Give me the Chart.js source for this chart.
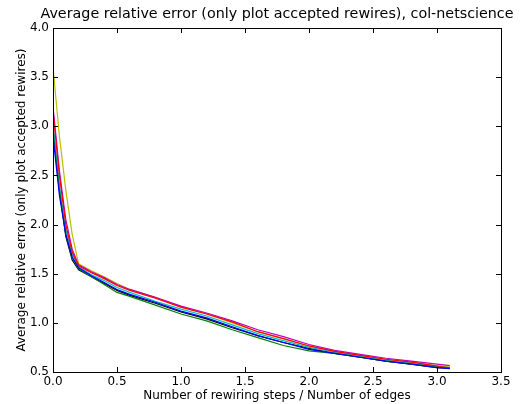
<!DOCTYPE html>
<html>
<head>
<meta charset="utf-8">
<script src="https://cdn.jsdelivr.net/npm/chart.js@4.4.1/dist/chart.umd.min.js"></script>
<style>
  html, body { margin: 0; padding: 0; background: #fff; }
  #wrap { width: 526px; height: 404px; }
</style>
</head>
<body>
<div id="wrap"><canvas id="errChart"></canvas></div>
<script>
// rewiring steps / edges, sampled denser near the start where the error drops fast
const steps = [0, 0.05, 0.1, 0.15, 0.2, 0.3, 0.4, 0.5, 0.6, 0.8, 1.0, 1.2, 1.4, 1.6, 1.8, 2.0, 2.2, 2.4, 2.6, 2.8, 3.0, 3.1];

const runBlue    = [2.90, 2.30, 1.90, 1.67, 1.56, 1.48, 1.41, 1.34, 1.29, 1.21, 1.12, 1.05, 0.96, 0.87, 0.80, 0.73, 0.69, 0.65, 0.61, 0.58, 0.545, 0.535];
const runGreen   = [2.95, 2.35, 1.90, 1.66, 1.55, 1.47, 1.39, 1.31, 1.27, 1.18, 1.09, 1.02, 0.93, 0.85, 0.77, 0.715, 0.69, 0.65, 0.61, 0.58, 0.55, 0.545];
const runRed     = [3.15, 2.50, 2.00, 1.72, 1.58, 1.51, 1.45, 1.38, 1.33, 1.25, 1.16, 1.09, 1.01, 0.91, 0.84, 0.765, 0.71, 0.67, 0.63, 0.60, 0.56, 0.54];
const runCyan    = [3.00, 2.40, 1.95, 1.70, 1.57, 1.49, 1.43, 1.36, 1.31, 1.22, 1.14, 1.07, 0.98, 0.89, 0.82, 0.75, 0.70, 0.66, 0.62, 0.59, 0.555, 0.54];
const runMagenta = [3.20, 2.55, 2.05, 1.75, 1.59, 1.52, 1.46, 1.39, 1.34, 1.26, 1.17, 1.10, 1.02, 0.93, 0.86, 0.78, 0.72, 0.68, 0.64, 0.61, 0.58, 0.565];
const runYellow  = [3.60, 2.90, 2.35, 1.90, 1.60, 1.53, 1.47, 1.40, 1.34, 1.26, 1.16, 1.09, 1.00, 0.91, 0.84, 0.765, 0.71, 0.67, 0.63, 0.60, 0.565, 0.55];
const runBlack   = [3.00, 2.35, 1.88, 1.64, 1.54, 1.47, 1.40, 1.33, 1.28, 1.20, 1.11, 1.04, 0.95, 0.87, 0.80, 0.74, 0.69, 0.65, 0.61, 0.58, 0.545, 0.54];

const xTicks = [0, 0.5, 1.0, 1.5, 2.0, 2.5, 3.0, 3.5];
const yTicks = [0.5, 1.0, 1.5, 2.0, 2.5, 3.0, 3.5, 4.0];

const TITLE = 'Average relative error (only plot accepted rewires), col-netscience';
const FONT = 'DejaVu Sans, sans-serif';

function series(ys, color) {
  return {
    data: steps.map((x, i) => ({ x, y: ys[i] })),
    borderColor: color,
    borderWidth: 1.2,
    pointRadius: 0,
    fill: false,
    tension: 0,
  };
}

// matplotlib-like frame with inward ticks on every side, title centred over the axes
const frameTicks = {
  id: 'frameTicks',
  afterDatasetsDraw(chart) {
    const { ctx, chartArea: a, scales } = chart;
    ctx.save();
    ctx.strokeStyle = '#000';
    ctx.lineWidth = 1;
    const len = 5;
    ctx.beginPath();
    xTicks.forEach(v => {
      const px = Math.round(scales.x.getPixelForValue(v)) + 0.5;
      ctx.moveTo(px, a.bottom); ctx.lineTo(px, a.bottom - len);
      ctx.moveTo(px, a.top); ctx.lineTo(px, a.top + len);
    });
    yTicks.forEach(v => {
      const py = Math.round(scales.y.getPixelForValue(v)) + 0.5;
      ctx.moveTo(a.left, py); ctx.lineTo(a.left + len, py);
      ctx.moveTo(a.right, py); ctx.lineTo(a.right - len, py);
    });
    ctx.stroke();
    ctx.strokeRect(Math.round(a.left) + 0.5, Math.round(a.top) + 0.5,
                   Math.round(a.right - a.left), Math.round(a.bottom - a.top));

    ctx.fillStyle = '#000';
    ctx.font = '14.3px ' + FONT;
    ctx.textAlign = 'center';
    ctx.textBaseline = 'bottom';
    ctx.fillText(TITLE, (a.left + a.right) / 2, a.top - 7);
    ctx.restore();
  }
};

new Chart(document.getElementById('errChart'), {
  type: 'line',
  data: {
    datasets: [
      series(runBlue, '#0000ff'),
      series(runGreen, '#008000'),
      series(runRed, '#ff0000'),
      series(runCyan, '#00bfbf'),
      series(runMagenta, '#bf00bf'),
      series(runYellow, '#bfbf00'),
      series(runBlack, '#000000'),
    ],
  },
  options: {
    responsive: true,
    maintainAspectRatio: false,
    animation: false,
    layout: { padding: { left: 15, right: 25, top: 28, bottom: 0 } },
    plugins: {
      legend: { display: false },
      tooltip: { enabled: false },
      title: { display: false },
    },
    scales: {
      x: {
        type: 'linear',
        min: 0,
        max: 3.5,
        afterBuildTicks: s => { s.ticks = xTicks.map(v => ({ value: v })); },
        afterFit: s => { s.height = 32; },
        ticks: {
          color: '#000',
          padding: 3,
          maxRotation: 0,
          font: { family: FONT, size: 12 },
          callback: v => v.toFixed(1),
        },
        grid: { display: false, drawTicks: false },
        border: { display: false },
        title: {
          display: true,
          text: 'Number of rewiring steps / Number of edges',
          color: '#000',
          font: { family: FONT, size: 12 },
          padding: { top: 0, bottom: 1 },
        },
      },
      y: {
        type: 'linear',
        min: 0.5,
        max: 4.0,
        afterBuildTicks: s => { s.ticks = yTicks.map(v => ({ value: v })); },
        afterFit: s => { s.width = 38; },
        ticks: {
          color: '#000',
          padding: 4,
          font: { family: FONT, size: 12 },
          callback: v => v.toFixed(1),
        },
        grid: { display: false, drawTicks: false },
        border: { display: false },
        title: {
          display: true,
          text: 'Average relative error (only plot accepted rewires)',
          color: '#000',
          font: { family: FONT, size: 12 },
          padding: { top: 0, bottom: 0 },
        },
      },
    },
  },
  plugins: [frameTicks],
});
</script>
</body>
</html>
